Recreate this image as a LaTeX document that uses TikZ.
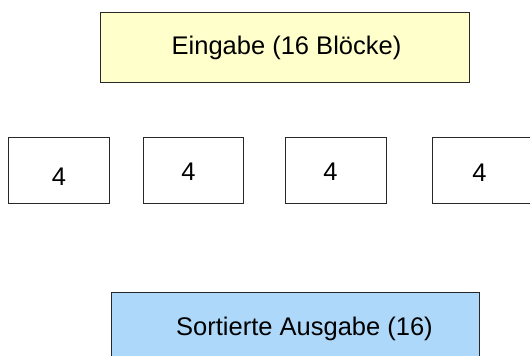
\documentclass[tikz,border=0pt]{standalone}
\usepackage{fontspec}
\setmainfont{Liberation Sans}
\definecolor{inyellow}{RGB}{255,255,204}
\definecolor{outblue}{RGB}{173,216,250}
\definecolor{edgegray}{RGB}{40,40,40}
\begin{document}
\begin{tikzpicture}[x=1pt,y=-1pt,
  box/.style={draw=edgegray, line width=1.3pt, rectangle, anchor=north west, inner sep=0pt},
  lbl/.style={anchor=base, inner sep=0pt, font=\fontsize{25.5}{30}\selectfont}]
\useasboundingbox (0,0) rectangle (530,356);
\clip (0,0) rectangle (530,356);
% input box
\node[box, fill=inyellow, minimum width=369pt, minimum height=70pt] (in) at (100,12) {};
\node[lbl] (inlbl) at (286.5,54) {Eingabe (16 Blöcke)};
% four blocks
\node[box, fill=white, minimum width=101pt, minimum height=66pt] (b1) at (8,137) {};
\node[box, fill=white, minimum width=100pt, minimum height=66pt] (b2) at (143,137) {};
\node[box, fill=white, minimum width=101pt, minimum height=66pt] (b3) at (285,137) {};
\node[box, fill=white, minimum width=101pt, minimum height=66pt] (b4) at (432,137) {};
\node[lbl] (l1) at (59,185) {4};
\node[lbl] (l2) at (188.5,180) {4};
\node[lbl] (l3) at (330.5,180) {4};
\node[lbl] (l4) at (479.5,181.5) {4};
% output box
\node[box, fill=outblue, minimum width=368pt, minimum height=72pt] (out) at (111,292) {};
\node[lbl] (outlbl) at (304.5,335) {Sortierte Ausgabe (16)};
\end{tikzpicture}
\end{document}
